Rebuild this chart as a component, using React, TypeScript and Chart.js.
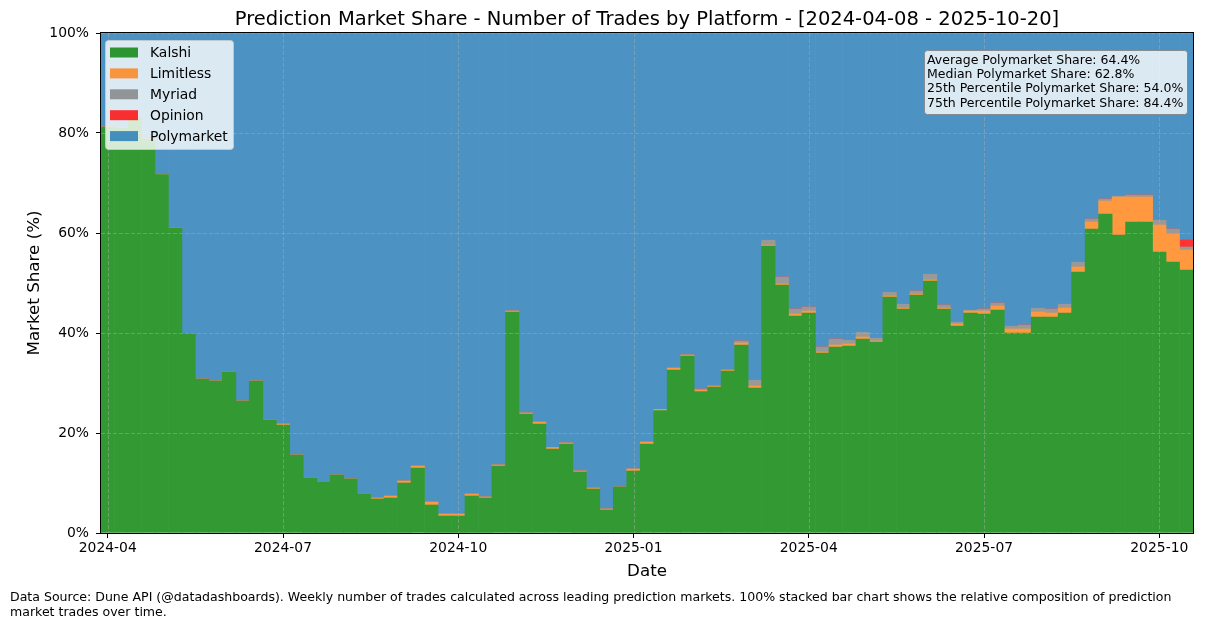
import { useEffect, useRef } from "react";
import { Chart, registerables } from "chart.js";

Chart.register(...registerables);

// weekly buckets (one bar each)
const WEEKS = [
  "2024-04-08", "2024-04-15", "2024-04-22", "2024-04-29", "2024-05-06", "2024-05-13", "2024-05-20", "2024-05-27", "2024-06-03", "2024-06-10",
  "2024-06-17", "2024-06-24", "2024-07-01", "2024-07-08", "2024-07-15", "2024-07-22", "2024-07-29", "2024-08-05", "2024-08-12", "2024-08-19",
  "2024-08-26", "2024-09-02", "2024-09-09", "2024-09-16", "2024-09-23", "2024-09-30", "2024-10-07", "2024-10-14", "2024-10-21", "2024-10-28",
  "2024-11-04", "2024-11-11", "2024-11-18", "2024-11-25", "2024-12-02", "2024-12-09", "2024-12-16", "2024-12-23", "2024-12-30", "2025-01-06",
  "2025-01-13", "2025-01-20", "2025-01-27", "2025-02-03", "2025-02-10", "2025-02-17", "2025-02-24", "2025-03-03", "2025-03-10", "2025-03-17",
  "2025-03-24", "2025-03-31", "2025-04-07", "2025-04-14", "2025-04-21", "2025-04-28", "2025-05-05", "2025-05-12", "2025-05-19", "2025-05-26",
  "2025-06-02", "2025-06-09", "2025-06-16", "2025-06-23", "2025-06-30", "2025-07-07", "2025-07-14", "2025-07-21", "2025-07-28", "2025-08-04",
  "2025-08-11", "2025-08-18", "2025-08-25", "2025-09-01", "2025-09-08", "2025-09-15", "2025-09-22", "2025-09-29", "2025-10-06", "2025-10-13",
  "2025-10-20",
];

// share of trades, %
const KALSHI = [
  81.2, 81.0, 83.2, 78.8, 71.7, 61.0, 39.9, 30.8, 30.4, 32.2,
  26.4, 30.4, 22.6, 21.6, 15.6, 11.0, 10.2, 11.6, 10.8, 7.8,
  6.8, 7.0, 10.0, 13.0, 5.6, 3.4, 3.4, 7.4, 7.0, 13.4,
  44.2, 23.8, 21.8, 16.8, 17.8, 12.2, 8.8, 4.6, 9.2, 12.4,
  17.8, 24.5, 32.6, 35.4, 28.3, 29.2, 32.4, 37.6, 29.0, 57.4,
  49.6, 43.4, 44.0, 36.0, 37.2, 37.4, 38.8, 38.2, 47.2, 44.8,
  47.6, 50.4, 44.8, 41.4, 44.0, 43.8, 44.6, 40.0, 40.0, 43.2,
  43.2, 44.0, 52.2, 60.8, 63.8, 59.6, 62.2, 62.2, 56.2, 54.2,
  52.6,
];
const LIMITLESS = [
  0, 0, 0, 0, 0, 0, 0, 0, 0, 0,
  0, 0, 0, 0.2, 0, 0, 0, 0, 0, 0,
  0.2, 0.4, 0.4, 0.4, 0.6, 0.4, 0.4, 0.4, 0.2, 0.2,
  0.2, 0.2, 0.4, 0.3, 0.2, 0.2, 0.2, 0.2, 0, 0.4,
  0.4, 0.2, 0.4, 0.2, 0.2, 0.2, 0.2, 0.4, 0.4, 0.2,
  0.2, 0.4, 0.4, 0.2, 0.4, 0.4, 0.4, 0.2, 0.2, 0.2,
  0.2, 0.2, 0.2, 0.4, 0.4, 0.6, 0.8, 0.8, 0.8, 1.0,
  0.8, 1.0, 1.0, 1.4, 2.6, 7.6, 5.0, 5.0, 5.4, 5.6,
  4.0,
];
const MYRIAD = [
  0, 0, 0, 0, 0, 0, 0, 0, 0, 0,
  0, 0, 0, 0, 0, 0, 0, 0, 0, 0,
  0, 0, 0, 0, 0, 0, 0, 0, 0, 0,
  0, 0, 0, 0, 0, 0, 0, 0, 0, 0,
  0, 0, 0, 0, 0.3, 0, 0, 0.4, 1.2, 1.0,
  1.4, 1.0, 0.8, 1.0, 1.2, 0.8, 1.0, 0.6, 0.8, 0.8,
  0.6, 1.2, 0.6, 0.4, 0.2, 0.4, 0.6, 0.6, 0.8, 0.8,
  0.8, 0.8, 1.0, 0.6, 0.4, 0.2, 0.4, 0.4, 1.0, 1.0,
  0.6,
];
const OPINION = [
  0, 0, 0, 0, 0, 0, 0, 0, 0, 0,
  0, 0, 0, 0, 0, 0, 0, 0, 0, 0,
  0, 0, 0, 0, 0, 0, 0, 0, 0, 0,
  0, 0, 0, 0, 0, 0, 0, 0, 0, 0,
  0, 0, 0, 0, 0, 0, 0, 0, 0, 0,
  0, 0, 0, 0, 0, 0, 0, 0, 0, 0,
  0, 0, 0, 0, 0, 0, 0, 0, 0, 0,
  0, 0, 0, 0, 0, 0, 0, 0, 0, 0,
  1.4,
];
// polymarket is whatever is left of the 100%
const POLYMARKET = WEEKS.map((_, i) => 100 - KALSHI[i] - LIMITLESS[i] - MYRIAD[i] - OPINION[i]);

const TICK_WEEKS = ["2024-04-08", "2024-07-08", "2024-10-07", "2025-01-06", "2025-04-07", "2025-07-07", "2025-10-06"];
const TICK_LABELS = ["2024-04", "2024-07", "2024-10", "2025-01", "2025-04", "2025-07", "2025-10"];
const Y_TICKS = [0, 20, 40, 60, 80, 100];

// bar colours are the 0.8-alpha colours already blended on white (avoids seams between bars)
const SERIES = [
  { name: "Kalshi", data: KALSHI, color: "rgb(51, 153, 51)", swatch: "rgba(0, 128, 0, 0.8)" },
  { name: "Limitless", data: LIMITLESS, color: "rgb(255, 152, 62)", swatch: "rgba(255, 127, 14, 0.8)" },
  { name: "Myriad", data: MYRIAD, color: "rgb(153, 153, 153)", swatch: "rgba(128, 128, 128, 0.8)" },
  { name: "Opinion", data: OPINION, color: "rgb(255, 51, 51)", swatch: "rgba(255, 0, 0, 0.8)" },
  { name: "Polymarket", data: POLYMARKET, color: "rgb(76, 146, 195)", swatch: "rgba(31, 119, 180, 0.8)" },
];

const STATS = [
  "Average Polymarket Share: 64.4%",
  "Median Polymarket Share: 62.8%",
  "25th Percentile Polymarket Share: 54.0%",
  "75th Percentile Polymarket Share: 84.4%",
];

const TITLE = "Prediction Market Share - Number of Trades by Platform - [2024-04-08 - 2025-10-20]";
const FOOTER = [
  "Data Source: Dune API (@datadashboards). Weekly number of trades calculated across leading prediction markets. 100% stacked bar chart shows the relative composition of prediction",
  "market trades over time.",
];

const FONT = "'DejaVu Sans', sans-serif";

const overlayPlugin = {
  id: "overlay",
  beforeDraw(chart: any) {
    const ctx = chart.ctx;
    ctx.save();
    ctx.fillStyle = "#fff";
    ctx.fillRect(0, 0, chart.width, chart.height);
    ctx.restore();
  },
  afterDatasetsDraw(chart: any) {
    const { ctx, chartArea: a, scales } = chart;
    ctx.save();

    // dashed grid sits over the bars, like matplotlib
    ctx.strokeStyle = "rgba(176, 176, 176, 0.45)";
    ctx.lineWidth = 1;
    ctx.setLineDash([4, 2]);
    scales.y.ticks.forEach((t: any) => {
      const y = Math.round(scales.y.getPixelForValue(t.value)) + 0.5;
      ctx.beginPath();
      ctx.moveTo(a.left, y);
      ctx.lineTo(a.right, y);
      ctx.stroke();
    });
    scales.x.ticks.forEach((_: any, i: number) => {
      const x = Math.round(scales.x.getPixelForTick(i)) + 0.5;
      ctx.beginPath();
      ctx.moveTo(x, a.top);
      ctx.lineTo(x, a.bottom);
      ctx.stroke();
    });
    ctx.setLineDash([]);

    // spines
    ctx.strokeStyle = "#000";
    ctx.lineWidth = 1;
    ctx.strokeRect(a.left - 0.5, a.top - 0.5, a.right - a.left + 1, a.bottom - a.top + 1);

    // legend, upper left
    ctx.beginPath();
    ctx.roundRect(105.5, 40.5, 128, 109, 3);
    ctx.fillStyle = "rgba(255, 255, 255, 0.8)";
    ctx.fill();
    ctx.strokeStyle = "rgba(204, 204, 204, 0.8)";
    ctx.stroke();
    ctx.font = `13.9px ${FONT}`;
    ctx.textBaseline = "middle";
    ctx.textAlign = "left";
    SERIES.forEach((s, i) => {
      const cy = 52.5 + i * 20.9;
      ctx.fillStyle = s.swatch;
      ctx.fillRect(110, cy - 5, 28, 10);
      ctx.fillStyle = "#000";
      ctx.fillText(s.name, 150, cy + 1);
    });

    // stats box, upper right
    ctx.beginPath();
    ctx.roundRect(924.5, 50.5, 263, 64, 3);
    ctx.fillStyle = "rgba(255, 255, 255, 0.8)";
    ctx.fill();
    ctx.strokeStyle = "rgba(128, 128, 128, 0.8)";
    ctx.stroke();
    ctx.font = `12.5px ${FONT}`;
    ctx.fillStyle = "#000";
    STATS.forEach((line, i) => {
      ctx.fillText(line, 927, 60.5 + i * 14.3);
    });
    ctx.restore();
  },
  afterDraw(chart: any) {
    const { ctx, chartArea: a } = chart;
    const cx = (a.left + a.right) / 2;
    ctx.save();
    ctx.fillStyle = "#000";
    ctx.textBaseline = "middle";
    ctx.textAlign = "center";
    ctx.font = `19.5px ${FONT}`;
    ctx.fillText(TITLE, cx, 20);
    ctx.font = `16.7px ${FONT}`;
    ctx.fillText("Date", cx, 572);
    ctx.save();
    ctx.translate(35, (a.top + a.bottom) / 2);
    ctx.rotate(-Math.PI / 2);
    ctx.fillText("Market Share (%)", 0, 0);
    ctx.restore();
    ctx.textAlign = "left";
    ctx.font = `12.55px ${FONT}`;
    FOOTER.forEach((line, i) => ctx.fillText(line, 10, 598 + i * 15));
    ctx.restore();
  },
};

const App = () => {
  const chartRef = useRef<HTMLCanvasElement>(null);
  const chartInstance = useRef<Chart | null>(null);

  useEffect(() => {
    if (!chartRef.current) return;
    if (chartInstance.current) chartInstance.current.destroy();
    const ctx = chartRef.current.getContext("2d");
    if (!ctx) return;

    chartInstance.current = new Chart(ctx, {
      type: "bar",
      data: {
        labels: WEEKS,
        datasets: SERIES.map((s) => ({
          label: s.name,
          data: s.data,
          backgroundColor: s.color,
          borderWidth: 0,
          categoryPercentage: 1,
          barPercentage: 1,
        })),
      },
      options: {
        responsive: false,
        animation: false,
        devicePixelRatio: 1,
        layout: { padding: { left: 0, top: 33, right: 12, bottom: 0 } },
        plugins: {
          legend: { display: false },
          title: { display: false },
          tooltip: { enabled: false },
        },
        scales: {
          x: {
            stacked: true,
            offset: true,
            border: { display: false },
            grid: { drawOnChartArea: false, drawTicks: true, offset: false, tickLength: 5, tickColor: "#000" },
            afterBuildTicks: (scale: any) => {
              scale.ticks = TICK_WEEKS.map((w) => ({ value: WEEKS.indexOf(w) }));
            },
            afterFit: (scale: any) => {
              scale.height = 95;
            },
            ticks: {
              autoSkip: false,
              maxRotation: 0,
              padding: 2,
              color: "#000",
              font: { family: FONT, size: 13.9 },
              callback: (_v: any, i: number) => TICK_LABELS[i],
            },
          },
          y: {
            stacked: true,
            min: 0,
            max: 100,
            border: { display: false },
            grid: { drawOnChartArea: false, drawTicks: true, tickLength: 5, tickColor: "#000" },
            afterBuildTicks: (scale: any) => {
              scale.ticks = Y_TICKS.map((v) => ({ value: v }));
            },
            afterFit: (scale: any) => {
              scale.width = 101;
            },
            ticks: {
              padding: 7,
              color: "#000",
              font: { family: FONT, size: 13.9 },
              callback: (v: any) => `${v}%`,
            },
          },
        },
      },
      plugins: [overlayPlugin],
    });

    return () => {
      if (chartInstance.current) {
        chartInstance.current.destroy();
        chartInstance.current = null;
      }
    };
  }, []);

  return (
    <div style={{ position: "absolute", left: 0, top: 0, width: 1205, height: 628, background: "#fff" }}>
      <canvas ref={chartRef} width={1205} height={628} style={{ display: "block" }} />
    </div>
  );
};

export default App;
